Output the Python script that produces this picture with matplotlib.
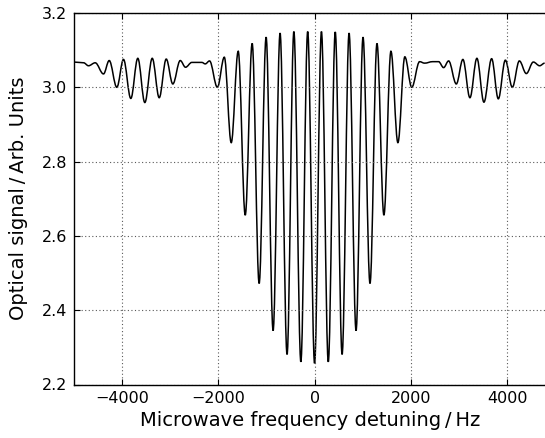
import matplotlib
matplotlib.use("Agg")
import matplotlib.pyplot as plt
from matplotlib.path import Path
from matplotlib.patches import PathPatch

# Ramsey-type fringe pattern: turning points of the recorded optical signal
detuning_hz = [
    -5010, -4900, -4800, -4699, -4559, -4387, -4268, -4110, -3971, -3819,
    -3674, -3528, -3374, -3229, -3083, -2946, -2792, -2682, -2551, -2343,
    -2272, -2183, -2020, -1876, -1732, -1587, -1441, -1297, -1152, -1007,
    -862, -717, -572, -430, -285, -143, 0, 143, 285, 430,
    572, 717, 862, 1007, 1152, 1297, 1441, 1587, 1732, 1876,
    2020, 2183, 2287, 2453, 2578, 2682, 2786, 2946, 3083, 3229,
    3374, 3520, 3680, 3819, 3965, 4110, 4256, 4401, 4547, 4678,
    4782,
]
signal = [
    3.068, 3.067, 3.066, 3.058, 3.066, 3.036, 3.072, 3.000, 3.075, 2.970,
    3.078, 2.959, 3.078, 2.972, 3.076, 3.009, 3.072, 3.054, 3.067, 3.067,
    3.063, 3.071, 3.000, 3.081, 2.851, 3.097, 2.656, 3.118, 2.472, 3.135,
    2.345, 3.146, 2.281, 3.150, 2.261, 3.150, 2.257, 3.150, 2.261, 3.149,
    2.281, 3.146, 2.345, 3.135, 2.472, 3.118, 2.656, 3.097, 2.851, 3.082,
    3.000, 3.069, 3.065, 3.069, 3.069, 3.053, 3.071, 3.009, 3.075, 2.972,
    3.078, 2.960, 3.077, 2.969, 3.073, 3.000, 3.071, 3.037, 3.068, 3.058,
    3.065,
]

x_ticks = [-4000, -2000, 0, 2000, 4000]
y_ticks = [2.2, 2.4, 2.6, 2.8, 3.0, 3.2]


def smooth_trace(xs, ys, handle=0.3634):
    """Cubic Bezier path through turning points with flat tangents at each."""
    verts = [(xs[0], ys[0])]
    codes = [Path.MOVETO]
    for xa, ya, xb, yb in zip(xs[:-1], ys[:-1], xs[1:], ys[1:]):
        d = handle * (xb - xa)
        verts += [(xa + d, ya), (xb - d, yb), (xb, yb)]
        codes += [Path.CURVE4] * 3
    return Path(verts, codes)


W, H = 545, 438
fig = plt.figure(figsize=(W / 100, H / 100), dpi=100)
ax = fig.add_axes([74 / W, 1 - 384.5 / H, 472 / W, 371.5 / H])

trace = PathPatch(smooth_trace(detuning_hz, signal), fill=False,
                  edgecolor="black", linewidth=1.1, transform=ax.transData)
ax.add_patch(trace)

ax.set_xlim(-5000, 4810)
ax.set_ylim(2.2, 3.2)
ax.set_xticks(x_ticks)
ax.set_yticks(y_ticks)
ax.set_yticklabels([f"{v:.1f}" for v in y_ticks])

ax.grid(True, color="0.35", linestyle=(0, (1, 2.2)), linewidth=0.8)
ax.tick_params(direction="in", length=4.5, width=0.8, top=True, right=False,
               labelsize=11.5, pad=5)
ax.spines["right"].set_visible(False)
for s in ("left", "bottom", "top"):
    ax.spines[s].set_linewidth(1.0)

ax.set_xlabel("Microwave frequency detuning\u2009/\u2009Hz", fontsize=14,
              labelpad=3)
ax.set_ylabel("Optical signal\u2009/\u2009Arb. Units", fontsize=14,
              labelpad=10)

fig.savefig("out.png", dpi=100)
